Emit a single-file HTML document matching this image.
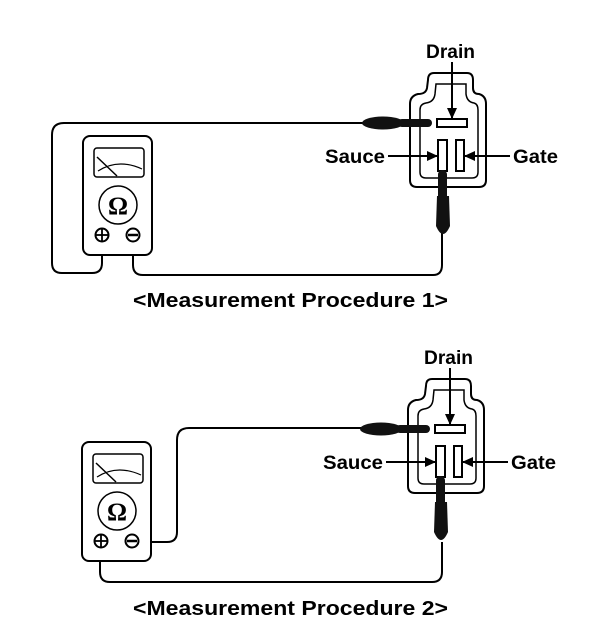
<!DOCTYPE html>
<html><head><meta charset="utf-8"><style>html,body{margin:0;padding:0;background:#fff}svg{display:block}</style></head>
<body>
<svg width="608" height="636" viewBox="0 0 608 636" xmlns="http://www.w3.org/2000/svg" font-family="Liberation Sans, Arial, sans-serif" font-weight="bold">
<defs>
<marker id="ah" markerWidth="11" markerHeight="10" refX="10" refY="5" orient="auto" markerUnits="userSpaceOnUse"><path d="M0,0 L11,5 L0,10 z" fill="#000"/></marker>
<g id="conn">
  <path d="M428,80 Q428,73 434,73 L467,73 Q473,73 473,80 L473,88 Q473,94 479,94 Q486,96 486,104 L486,180 Q486,187 479,187 L417,187 Q410,187 410,180 L410,104 Q410,96 418,94 Q426,94 427,88 Z" fill="none" stroke="#000" stroke-width="2"/>
  <path d="M436,84 L466,84 L466,94 Q467,102 474,103 Q478,104 478,110 L478,172 Q478,178 472,178 L426,178 Q420,178 420,172 L420,110 Q420,104 426,103 Q434,102 435,94 Z" fill="none" stroke="#000" stroke-width="1.5"/>
  <rect x="437" y="119" width="30" height="8" fill="#fff" stroke="#000" stroke-width="2"/>
  <rect x="438" y="140" width="9" height="31" fill="#fff" stroke="#000" stroke-width="2"/>
  <rect x="456" y="140" width="8" height="31" fill="#fff" stroke="#000" stroke-width="2"/>
  <line x1="452" y1="62" x2="452" y2="118" stroke="#000" stroke-width="2" marker-end="url(#ah)"/>
  <line x1="388" y1="156" x2="437" y2="156" stroke="#000" stroke-width="2" marker-end="url(#ah)"/>
  <line x1="510" y1="156" x2="465" y2="156" stroke="#000" stroke-width="2" marker-end="url(#ah)"/>
  <text x="426" y="58" font-size="19" textLength="49" lengthAdjust="spacingAndGlyphs">Drain</text>
  <text x="325" y="163" font-size="19" textLength="60" lengthAdjust="spacingAndGlyphs">Sauce</text>
  <text x="513" y="163" font-size="19" textLength="45" lengthAdjust="spacingAndGlyphs">Gate</text>
  <ellipse cx="383" cy="123" rx="21" ry="6.5" fill="#111"/>
  <rect x="398" y="119" width="34" height="8" rx="4" fill="#111"/>
  <rect x="438" y="170" width="9" height="34" rx="4.5" fill="#111"/>
  <path d="M437,196 L449,196 L450,226 Q443,242 436,226 Z" fill="#111"/>
</g>
<g id="meter">
  <rect x="83" y="136" width="69" height="119" rx="7" fill="#fff" stroke="#000" stroke-width="2"/>
  <rect x="94" y="148" width="50" height="29" rx="3" fill="none" stroke="#000" stroke-width="1.5"/>
  <line x1="97" y1="157" x2="117" y2="176" stroke="#000" stroke-width="1.5"/>
  <path d="M98,171 Q118,158 142,169" fill="none" stroke="#000" stroke-width="1.2"/>
  <circle cx="118" cy="205" r="19" fill="none" stroke="#000" stroke-width="1.5"/>
  <text x="118" y="214" font-size="25" text-anchor="middle" font-family="Liberation Serif, serif">Ω</text>
  <circle cx="102" cy="235" r="6.5" fill="#fff" stroke="#000" stroke-width="2"/>
  <line x1="96" y1="235" x2="108" y2="235" stroke="#000" stroke-width="1.8"/>
  <line x1="102" y1="229" x2="102" y2="241" stroke="#000" stroke-width="1.8"/>
  <circle cx="133" cy="235" r="6.5" fill="#fff" stroke="#000" stroke-width="2"/>
  <line x1="128" y1="235" x2="138" y2="235" stroke="#000" stroke-width="2.5"/>
</g>
</defs>

<g fill="none" stroke="#000" stroke-width="2">
  <path d="M365,123 L64,123 Q52,123 52,135 L52,263 Q52,273 62,273 L92,273 Q102,273 102,263 L102,241"/>
  <path d="M133,241 L133,265 Q133,275 143,275 L433,275 Q442,275 442,265 L442,232"/>
</g>
<use href="#meter"/>
<use href="#conn"/>
<text x="133" y="307" font-size="20" textLength="315" lengthAdjust="spacingAndGlyphs">&lt;Measurement Procedure 1&gt;</text>

<g fill="none" stroke="#000" stroke-width="2">
  <path d="M138,542 L167,542 Q177,542 177,532 L177,440 Q177,428 189,428 L365,428"/>
  <path d="M100,548 L100,572 Q100,582 110,582 L432,582 Q442,582 442,572 L442,542"/>
</g>
<use href="#meter" transform="translate(-1,306)"/>
<use href="#conn" transform="translate(-2,306)"/>
<text x="133" y="615" font-size="20" textLength="315" lengthAdjust="spacingAndGlyphs">&lt;Measurement Procedure 2&gt;</text>
</svg>
</body></html>
